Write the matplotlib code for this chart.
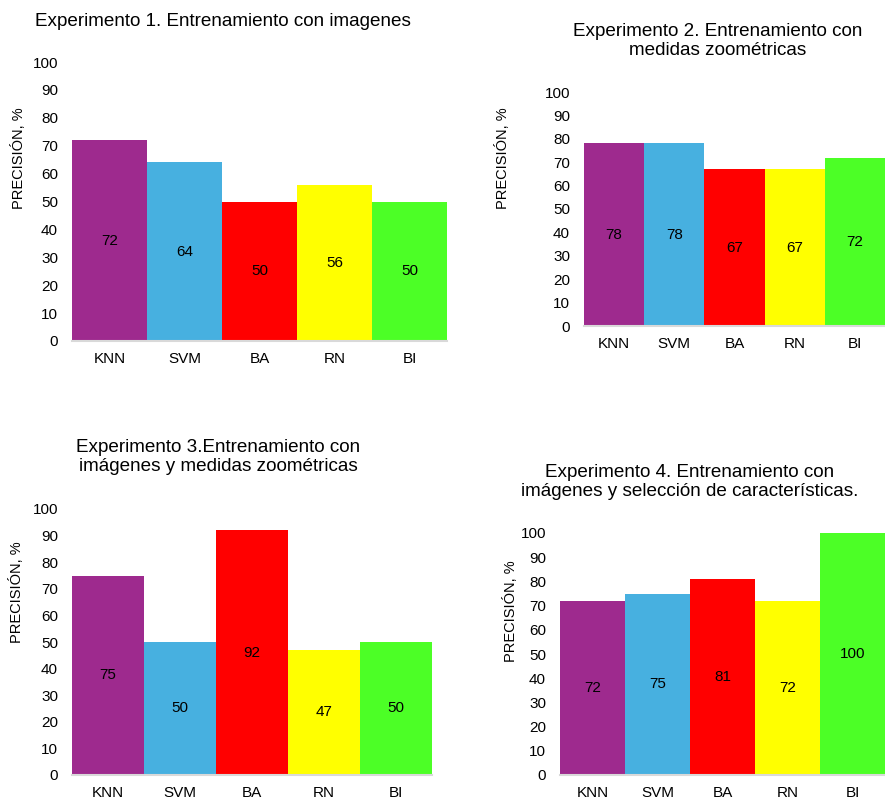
import matplotlib
matplotlib.use("Agg")
import matplotlib.pyplot as plt

plt.rcParams["font.family"] = ["Liberation Sans", "DejaVu Sans"]

W, H = 885, 800

categories = ["KNN", "SVM", "BA", "RN", "BI"]
colors = ["#9E2A8E", "#47B0E0", "#FF0000", "#FFFF00", "#4CFF26"]

exp1 = [72, 64, 50, 56, 50]
exp2 = [78, 78, 67, 67, 72]
exp3 = [75, 50, 92, 47, 50]
exp4 = [72, 75, 81, 72, 100]

titles = [
    "Experimento 1. Entrenamiento con imagenes",
    "Experimento 2. Entrenamiento con\nmedidas zoométricas",
    "Experimento 3.Entrenamiento con\nimágenes y medidas zoométricas",
    "Experimento 4. Entrenamiento con\nimágenes y selección de características.",
]

# panel layout in pixels: (left, right, y of 0, y of 100), title (x, y, ha), ylabel (x, y)
panels = [
    (exp1, (72, 447, 341, 62), (35, 22, "left"), (19, 158)),
    (exp2, (584, 885, 326, 92), (718, 41, "center"), (503, 158)),
    (exp3, (72, 432, 775, 509), (218, 457, "center"), (17, 592)),
    (exp4, (560, 885, 775, 533), (690, 482, "center"), (511, 611)),
]

fig = plt.figure(figsize=(W / 100, H / 100), dpi=100)

for title, (values, (x0, x1, y0, y100), (tx, ty, tha), (lx, ly)) in zip(titles, panels):
    ax = fig.add_axes([x0 / W, 1 - y0 / H, (x1 - x0) / W, (y0 - y100) / H])
    ax.bar(range(len(categories)), values, width=1.0, color=colors)
    for i, v in enumerate(values):
        ax.text(i, v / 2, str(v), ha="center", va="center", fontsize=11)
    ax.set_xlim(-0.5, len(categories) - 0.5)
    ax.set_ylim(0, 100)
    ax.set_yticks(range(0, 101, 10))
    ax.set_xticks(range(len(categories)))
    ax.set_xticklabels(categories)
    ax.tick_params(axis="both", length=0, labelsize=11)
    ax.tick_params(axis="y", pad=10)
    ax.tick_params(axis="x", pad=8)
    for side in ["top", "right", "left"]:
        ax.spines[side].set_visible(False)
    ax.spines["bottom"].set_color("#D9D9D9")
    ax.spines["bottom"].set_linewidth(1.5)

    fig.text(tx / W, 1 - ty / H, title, ha=tha, va="center", fontsize=13.6,
             multialignment="center", linespacing=1.1)
    fig.text(lx / W, 1 - ly / H, "PRECISIÓN, %", rotation=90,
             ha="center", va="center", fontsize=10.5)

fig.savefig("out.png", dpi=100)
